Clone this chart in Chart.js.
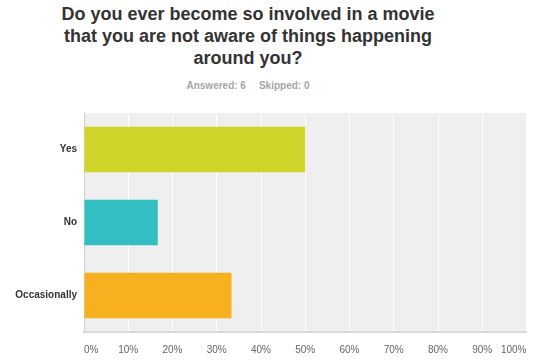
<!DOCTYPE html>
<html>
<head>
<meta charset="utf-8">
<script src="https://cdn.jsdelivr.net/npm/chart.js@4.4.1/dist/chart.umd.min.js"></script>
<style>
  html, body { margin: 0; padding: 0; background: #fff; }
  body { width: 533px; height: 360px; position: relative; overflow: hidden; font-family: "Liberation Sans", Arial, sans-serif; }
  #title { position: absolute; left: 0; top: 3px; width: 496px; text-align: center; font-size: 18px; font-weight: bold; line-height: 22px; color: #333; }
  #answered { position: absolute; left: 0; top: 80px; width: 496px; text-align: center; font-size: 10px; font-weight: bold; color: #a6a6a6; }
  #answered span + span { margin-left: 13px; }
  #wrap { position: absolute; left: 0; top: 100px; width: 533px; height: 260px; }
</style>
</head>
<body>
<div id="title">Do you ever become so involved in a movie<br>that you are not aware of things happening<br>around you?</div>
<div id="answered"><span>Answered: 6</span><span>Skipped: 0</span></div>
<div id="wrap"><canvas id="chart"></canvas></div>
<script>
// ------------------- Dane -------------------
const answers = ['Yes', 'No', 'Occasionally'];
const percents = [50, 16.67, 33.33];
const barColors = ['#cfd52a', '#33bec1', '#f7b01f'];

// ------------------- Tło obszaru wykresu -------------------
const plotBackground = {
    id: 'plotBackground',
    beforeDraw(chart) {
        const { ctx, chartArea: a } = chart;
        ctx.save();
        ctx.fillStyle = '#efefef';
        ctx.fillRect(a.left, a.top, a.right - a.left, a.bottom - a.top);
        ctx.restore();
    }
};

new Chart(document.getElementById('chart'), {
    type: 'bar',
    data: {
        labels: answers,
        datasets: [{ data: percents, backgroundColor: barColors, borderWidth: 0, categoryPercentage: 1, barPercentage: 0.625 }]
    },
    options: {
        indexAxis: 'y',
        responsive: true,
        maintainAspectRatio: false,
        animation: false,
        layout: { padding: { top: 11, right: 6.5, left: 0, bottom: 0 } },
        plugins: { legend: { display: false }, tooltip: { enabled: false } },
        scales: {
            x: {
                min: 0, max: 100,
                afterFit: s => { s.height = 28; s.paddingRight = 0; },
                ticks: { stepSize: 10, align: 'inner', padding: 12, color: '#666', font: { family: 'Liberation Sans', size: 10 }, callback: v => v + '%' },
                grid: { color: '#ffffff', lineWidth: 1, drawTicks: false },
                border: { color: '#dadada', width: 2 }
            },
            y: {
                afterFit: s => { s.width = 84; },
                ticks: { padding: 7, color: '#333', font: { family: 'Liberation Sans', size: 10, weight: 'bold' } },
                grid: { display: false, drawTicks: false },
                border: { color: '#d0d0d0', width: 1 }
            }
        }
    },
    plugins: [plotBackground]
});
</script>
</body>
</html>
